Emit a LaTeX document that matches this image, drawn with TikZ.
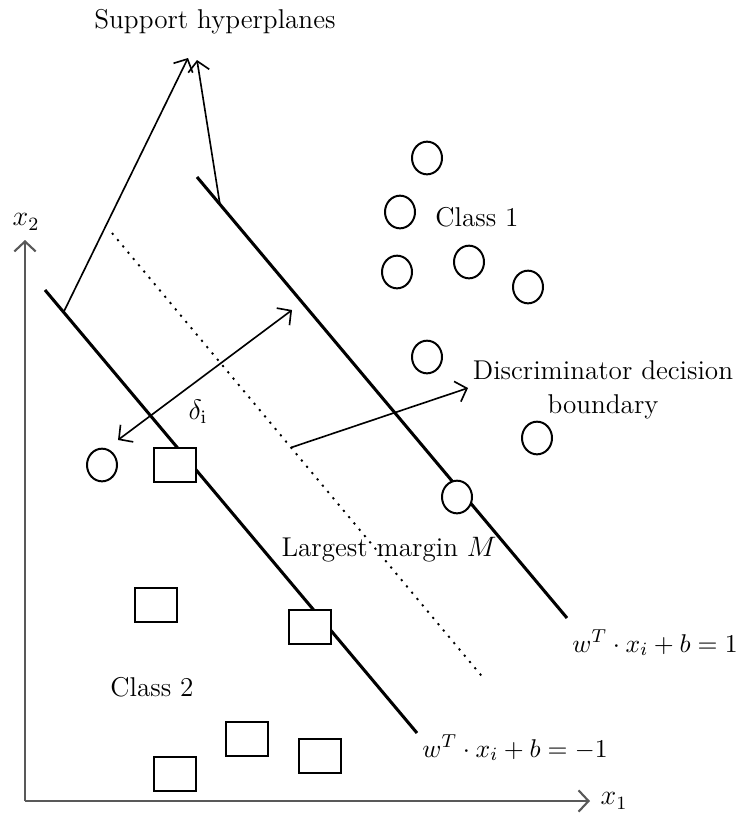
\documentclass[tikz,border=0pt]{standalone}
\usetikzlibrary{calc,arrows.meta,shapes.geometric}
\tikzset{
  hyperplane/.style = {line width=1.3pt},
  pointer/.style = {->, line width=0.7pt},
  axis/.style = {->, line width=0.9pt, black!65},
  classone/.style = {draw, ellipse, fill=white, line width=0.85pt,
    minimum width=0.45cm, minimum height=0.49cm, inner sep=0pt},
  classtwo/.style = {draw, rectangle, fill=white, line width=0.85pt,
    minimum width=0.62cm, minimum height=0.52cm, inner sep=0pt},
  equation/.style = {anchor=west, inner sep=0pt, font=\fontsize{10.8}{13}\selectfont},
  >={Straight Barb[length=1.5mm,width=3.2mm]}
}

\begin{document}
\begin{tikzpicture}[x=0.15mm,y=-0.15mm,font=\fontsize{11.6}{14.5}\selectfont]
  \useasboundingbox (0,0) rectangle (748,813);
  %
  \coordinate (O) at (25,801);
  \coordinate (ytip) at (25,240);
  \coordinate (xtip) at (590,801);
  \coordinate (lowA) at (45,290);
  \coordinate (lowB) at (417,733);
  \coordinate (upA) at (197,177);
  \coordinate (upB) at (567,618);
  \coordinate (midA) at (112,233);
  \coordinate (midB) at (485,680);
  % axes
  \draw[axis] (O) -- (ytip);
  \draw[axis] (O) -- (xtip);
  \node (xtwo) at (26,222) {$x_2$};
  \node (xone) at (614,801) {$x_1$};
  % hyperplanes
  \draw[hyperplane] (lowA) -- (lowB);
  \draw[hyperplane] (upA) -- (upB);
  \draw[line width=0.8pt,dash pattern=on 0.9pt off 2.6pt] (midA) -- (midB);
  \node[equation] (eqplus) at (572,643) {$w^T\cdot x_i+b=1$};
  \node[equation] (eqminus) at (422,748) {$w^T\cdot x_i+b=-1$};
  % support hyperplanes
  \node (support) at (215,22) {Support hyperplanes};
  \coordinate (suptipL) at (188,58);
  \coordinate (suptipR) at (197,60);
  \draw[pointer] ($(lowA)!0.05!(lowB)$) -- (suptipL);
  \draw[pointer] ($(upA)!0.062!(upB)$) -- (suptipR);
  % margin
  \coordinate (dlow) at (118,440);
  \coordinate (dup) at (292,310);
  \draw[pointer,<->] (dlow) -- (dup);
  \node (delta) at (198,412) {$\delta_{\mathrm{i}}$};
  \node (margin) at (389,550) {Largest margin $M$};
  % decision boundary
  \node[align=center] (disc) at (603,390) {Discriminator decision\\boundary};
  \coordinate (disctip) at (468,388);
  \draw[pointer] ($(midA)!0.48!(midB)$) -- (disctip);
  % class 1
  \node (classA) at (477,217) {Class 1};
  \node[classone] (c1) at (427,158) {};
  \node[classone] (c2) at (400,212) {};
  \node[classone] (c3) at (397,272) {};
  \node[classone] (c4) at (469,262) {};
  \node[classone] (c5) at (528,287) {};
  \node[classone] (c6) at (427,357) {};
  \node[classone] (c7) at (537,438) {};
  \node[classone] (c8) at (457,497) {};
  \node[classone] (c9) at (102,465) {};
  % class 2
  \node (classB) at (152,687) {Class 2};
  \node[classtwo] (s1) at (175,465) {};
  \node[classtwo] (s2) at (156,605) {};
  \node[classtwo] (s3) at (310,627) {};
  \node[classtwo] (s4) at (247,739) {};
  \node[classtwo] (s5) at (320,756) {};
  \node[classtwo] (s6) at (175,774) {};
\end{tikzpicture}
\end{document}
